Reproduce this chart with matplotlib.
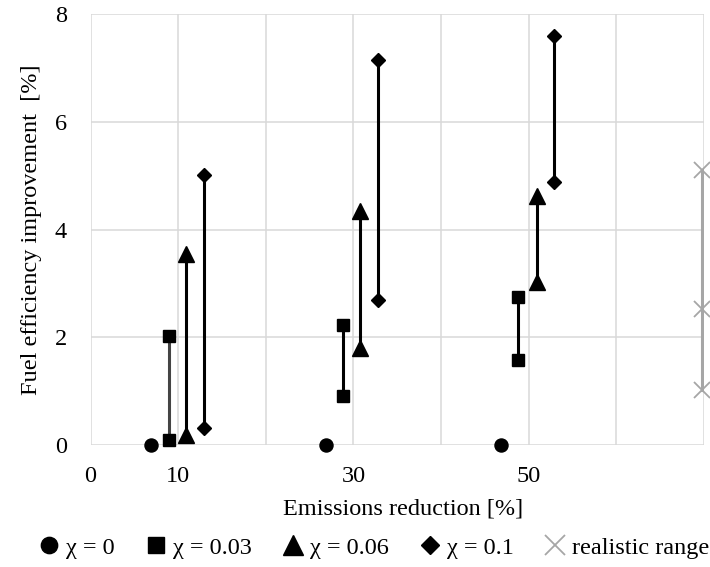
import matplotlib
matplotlib.use("Agg")
from matplotlib import pyplot as plt

plt.rcParams['font.family'] = ['Liberation Serif', 'DejaVu Serif']

# posicoes no eixo x (reducao de emissoes) e faixas de melhoria (min, max)
xCircle = [6.9, 26.9, 46.8]
yCircle = [0, 0, 0]

xSquare = [8.9, 28.8, 48.8]
squareLow = [0.09, 0.92, 1.58]
squareHigh = [2.02, 2.22, 2.75]

xTriangle = [10.9, 30.8, 50.9]
triangleLow = [0.18, 1.80, 3.02]
triangleHigh = [3.54, 4.35, 4.62]

xDiamond = [12.9, 32.8, 52.9]
diamondLow = [0.31, 2.70, 4.88]
diamondHigh = [5.02, 7.15, 7.59]

xRealistic = [69.8, 69.8, 69.8]
yRealistic = [1.02, 2.52, 5.10]

legendLabels = ["χ = 0", "χ = 0.03", "χ = 0.06", "χ = 0.1", "realistic range"]
xTickValues = [0, 10, 20, 30, 40, 50, 60, 70]
xTickLabels = ["0", "10", "", "30", "", "50", "", ""]
yTickValues = [0, 2, 4, 6, 8]

fig = plt.figure(figsize=(7.1, 5.67), dpi=100)
ax = fig.add_axes([0.1275, 0.215, 0.864, 0.7603])

# linhas verticais ligando minimo e maximo
squareLineColors = ["#444444", "black", "black"]
for i in range(3):
    ax.plot([xSquare[i], xSquare[i]], [squareLow[i], squareHigh[i]], color=squareLineColors[i], lw=2.2, zorder=2)
    ax.plot([xTriangle[i], xTriangle[i]], [triangleLow[i], triangleHigh[i]], color="black", lw=2.2, zorder=2)
    ax.plot([xDiamond[i], xDiamond[i]], [diamondLow[i], diamondHigh[i]], color="black", lw=2.2, zorder=2)
ax.plot([xRealistic[0], xRealistic[-1]], [min(yRealistic), max(yRealistic)], color="#a6a6a6", lw=2.2, zorder=2)

# marcadores
ax.plot(xCircle, yCircle, 'o', color="black", ms=9.4, ls='none', clip_on=False, zorder=3, label=legendLabels[0])
ax.plot(xSquare + xSquare, squareLow + squareHigh, 's', color="black", ms=9.2, ls='none', clip_on=False, zorder=3, label=legendLabels[1])
ax.plot(xTriangle + xTriangle, triangleLow + triangleHigh, '^', color="black", ms=11, ls='none', clip_on=False, zorder=3, label=legendLabels[2])
ax.plot(xDiamond + xDiamond, diamondLow + diamondHigh, 'D', color="black", ms=7.4, ls='none', clip_on=False, zorder=3, label=legendLabels[3])
ax.plot(xRealistic, yRealistic, 'x', color="#a6a6a6", ms=11, mew=1.3, ls='none', clip_on=False, zorder=3, label=legendLabels[4])

ax.set_xlim(0, 70)
ax.set_ylim(0, 8)
ax.set_xticks(xTickValues)
ax.set_xticklabels(xTickLabels)
ax.set_yticks(yTickValues)
ax.tick_params(length=0, labelsize=17.5)
ax.tick_params(axis='x', pad=15)
ax.tick_params(axis='y', pad=17)
ax.grid(True, color="#d9d9d9", lw=1.1)
ax.set_axisbelow(True)
for s in ax.spines.values():
    s.set_visible(False)

ax.set_xlabel("Emissions reduction [%]", fontsize=17.5)
ax.xaxis.set_label_coords(0.51, -0.125)
ax.set_ylabel("Fuel efficiency improvement  [%]", fontsize=17.5, labelpad=9)

fig.legend(loc='center', bbox_to_anchor=(0.527, 0.034), ncol=5, frameon=False,
           fontsize=17.5, markerscale=1.25, handlelength=0.8, handletextpad=0.3,
           columnspacing=1.3)

plt.savefig("out.png", dpi=100)
